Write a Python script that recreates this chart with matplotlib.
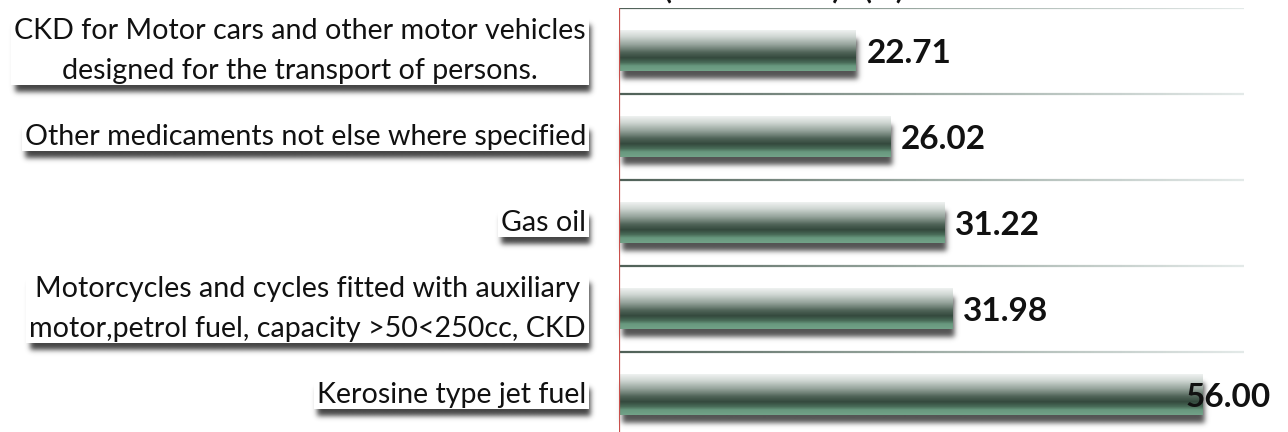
import math
import numpy as np
import matplotlib
matplotlib.use("Agg")
import matplotlib.pyplot as plt
import matplotlib.transforms as mtransforms
from matplotlib.collections import LineCollection
from matplotlib.colors import LinearSegmentedColormap, to_rgb

# ---------------- data ----------------
categories = [
    "CKD for Motor cars and other motor vehicles\ndesigned for the transport of persons.",
    "Other medicaments not else where specified",
    "Gas oil",
    "Motorcycles and cycles fitted with auxiliary\nmotor,petrol fuel, capacity >50<250cc, CKD",
    "Kerosine type jet fuel",
]
values = [22.71, 26.02, 31.22, 31.98, 56.00]
value_labels = ["22.71", "26.02", "31.22", "31.98", "56.00"]
title_parts = ["(2018 - 2019)", "(%)"]

# ---------------- figure ----------------
W, H = 1288, 432
fig = plt.figure(figsize=(W / 100, H / 100), dpi=100)
fig.patch.set_facecolor("white")

# overlay for shadows / boxes in pixel coordinates
ov = fig.add_axes([0, 0, 1, 1], zorder=0)
ov.set_axis_off()

ax_left, ax_right, ax_top, ax_h = 619, 1244, 424, 430
ax = fig.add_axes([ax_left / W, (ax_top - ax_h) / H, (ax_right - ax_left) / W, ax_h / H], zorder=1)
ax.patch.set_alpha(0)

n = len(categories)
ypos = np.arange(n)[::-1]
bar_h = 0.47
xmax = 60

erf = np.vectorize(math.erf)


def soft_rect(x0, x1, y0, y1, sigma, color, alpha, zorder):
    pad = 3 * sigma
    xs = np.arange(x0 - pad, x1 + pad + 1, 1.0)
    ys = np.arange(y0 - pad, y1 + pad + 1, 1.0)
    s = math.sqrt(2) * sigma
    fx = 0.5 * (erf((xs - x0) / s) - erf((xs - x1) / s))
    fy = 0.5 * (erf((ys - y0) / s) - erf((ys - y1) / s))
    img = np.zeros((len(ys), len(xs), 4))
    img[..., :3] = to_rgb(color)
    img[..., 3] = np.outer(fy, fx) * alpha
    ov.imshow(img, extent=(xs[0], xs[-1], ys[0], ys[-1]), origin="lower",
              interpolation="bilinear", aspect="auto", zorder=zorder)


# bar vertical gradient (top -> bottom)
bar_cmap = LinearSegmentedColormap.from_list("bar", [
    (0.00, "#eef1f0"),
    (0.15, "#d0d7d3"),
    (0.35, "#97a59d"),
    (0.55, "#4f6357"),
    (0.68, "#34493d"),
    (0.80, "#496b58"),
    (0.88, "#68987e"),
    (1.00, "#72a288"),
])
grad = np.linspace(0, 1, 64).reshape(-1, 1)

for yc, v in zip(ypos, values):
    ax.imshow(grad, cmap=bar_cmap, extent=(0, v, yc - bar_h / 2, yc + bar_h / 2),
              origin="upper", aspect="auto", interpolation="bilinear", zorder=3)

ax.set_xlim(0, xmax)
ax.set_ylim(-0.5, n - 0.5)

# gradient gridlines at category boundaries
gl_cmap = LinearSegmentedColormap.from_list("gl", ["#4f6057", "#9fada6", "#e3e9e8"])
xs_seg = np.linspace(0, xmax, 201)
for b in np.arange(-0.5, n, 1.0):
    segs = [[(xs_seg[k], b), (xs_seg[k + 1], b)] for k in range(len(xs_seg) - 1)]
    cols = gl_cmap(np.linspace(0, 1, len(segs)))
    ax.add_collection(LineCollection(segs, colors=cols, linewidths=1.6, zorder=2))

ax.axvline(0, color="#c9504c", lw=1.6, zorder=4)
ax.set_xticks([])
ax.set_yticks([])
for sp in ax.spines.values():
    sp.set_visible(False)

# category labels
tr = mtransforms.blended_transform_factory(fig.transFigure, ax.transData)
cat_texts = []
for yc, c in zip(ypos, categories):
    t = ax.text(586 / W, yc, c, transform=tr, ha="right", va="center",
                multialignment="center", fontsize=20.6, family="Lato",
                color="#111111", linespacing=1.65, clip_on=False, zorder=10)
    cat_texts.append(t)

# value labels
val_texts = []
for yc, v, lab in zip(ypos, values, value_labels):
    t = ax.annotate(lab, xy=(v, yc), xytext=(11, -12), textcoords="offset pixels",
                    ha="left", va="baseline", fontsize=24, fontweight="bold",
                    family="Lato", color="#111111", annotation_clip=False, zorder=10)
    val_texts.append(t)

# title (cut off at the top edge, as in the reference)
fig.text(664 / W, 1 + 0.5 / H, title_parts[0], ha="left", va="baseline", fontsize=21,
         fontweight="bold", family="Lato", color="#111111")
fig.text(864 / W, 1 + 0.5 / H, title_parts[1], ha="left", va="baseline", fontsize=21,
         fontweight="bold", family="Lato", color="#111111")

fig.canvas.draw()
renderer = fig.canvas.get_renderer()

# keep value labels inside chart area
limit = 1271
for t in val_texts:
    bb = t.get_window_extent(renderer)
    if bb.x1 > limit:
        t.set_position((11 - (bb.x1 - limit), -12))

# bar shadows
for yc, v in zip(ypos, values):
    (px0, py0) = ax.transData.transform((0, yc - bar_h / 2))
    (px1, py1) = ax.transData.transform((v, yc + bar_h / 2))
    soft_rect(px0 + 3, px1 + 3, py0 - 8, py1 - 8, 2.6, "#4a4a4a", 0.95, 1)

# label boxes with shadows
for t in cat_texts:
    bb = t.get_window_extent(renderer)
    x0, x1, y0, y1 = bb.x0 - 3, bb.x1 + 3, bb.y0 - 1, bb.y1 + 1
    soft_rect(x0 + 3, x1 + 2, y0 - 7, y1 - 7, 2.6, "#3a3a3a", 0.95, 1)
    ov.add_patch(plt.Rectangle((x0, y0), x1 - x0, y1 - y0, facecolor="white",
                               edgecolor="none", zorder=2))

ov.set_xlim(0, W)
ov.set_ylim(0, H)

fig.savefig("out.png", dpi=100, facecolor="white")
